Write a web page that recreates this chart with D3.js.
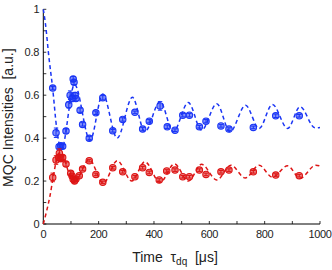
<!DOCTYPE html>
<html>
<head>
<meta charset="utf-8">
<script src="https://cdn.jsdelivr.net/npm/d3@7"></script>
<style>
  body { margin: 0; background: #fff; }
  svg { display: block; font-family: "Liberation Sans", Arial, sans-serif; }
  .title { white-space: pre; }
</style>
</head>
<body>
<div class="chart-container"></div>
<script>
// --- Data ---

// measurement times (us) and values
var blueT   = [34, 46, 57, 63, 70, 82, 92, 97, 104, 108, 111, 115, 118, 133, 142, 166, 190, 215, 251, 287, 331, 359, 383, 422, 448, 476, 504, 528, 564, 588, 642, 671, 759, 840, 925];
var blueV   = [0.633, 0.425, 0.36, 0.365, 0.362, 0.433, 0.555, 0.60, 0.585, 0.675, 0.66, 0.598, 0.585, 0.53, 0.464, 0.399, 0.518, 0.588, 0.434, 0.487, 0.52, 0.442, 0.479, 0.55, 0.453, 0.437, 0.507, 0.507, 0.453, 0.479, 0.457, 0.442, 0.45, 0.504, 0.504];
var blueErr = [0.008, 0.022, 0.01, 0.01, 0.01, 0.01, 0.015, 0.02, 0.015, 0.012, 0.01, 0.015, 0.012, 0.01, 0.008, 0.008, 0.008, 0.01, 0.006, 0.008, 0.006, 0.008, 0.008, 0.02, 0.008, 0.006, 0.008, 0.008, 0.006, 0.008, 0.006, 0.006, 0.006, 0.008, 0.006];

var redT   = [34, 46, 56, 58, 63, 70, 82, 99, 104, 108, 113, 118, 130, 142, 166, 190, 215, 251, 287, 331, 359, 383, 419, 446, 476, 504, 528, 564, 588, 642, 671, 759, 840, 925];
var redV   = [0.217, 0.298, 0.31, 0.33, 0.305, 0.31, 0.279, 0.236, 0.223, 0.208, 0.2, 0.21, 0.225, 0.256, 0.295, 0.231, 0.194, 0.262, 0.243, 0.22, 0.262, 0.24, 0.205, 0.247, 0.251, 0.22, 0.22, 0.251, 0.231, 0.243, 0.251, 0.243, 0.228, 0.225];
var redErr = [0.02, 0.02, 0.015, 0.02, 0.015, 0.01, 0.01, 0.01, 0.01, 0.01, 0.01, 0.008, 0.006, 0.006, 0.006, 0.006, 0.006, 0.006, 0.006, 0.006, 0.006, 0.006, 0.006, 0.006, 0.006, 0.006, 0.006, 0.006, 0.006, 0.006, 0.006, 0.006, 0.006, 0.006];

// fitted curves (read at start, peaks and troughs)
var blueFitT = [0, 8, 20, 34, 48, 65, 113, 169, 215, 267, 322, 367, 422, 470, 524, 572, 627, 675, 731, 780, 828, 883, 928, 982, 1000];
var blueFitV = [1.0, 0.93, 0.78, 0.63, 0.45, 0.345, 0.65, 0.39, 0.605, 0.40, 0.59, 0.43, 0.57, 0.43, 0.566, 0.437, 0.56, 0.43, 0.553, 0.445, 0.557, 0.445, 0.546, 0.448, 0.45];
var redFitT = [0, 12, 24, 36, 48, 62, 110, 166, 217, 267, 320, 367, 422, 474, 524, 572, 627, 678, 730, 780, 828, 883, 928, 985, 1000];
var redFitV = [0.0, 0.06, 0.13, 0.22, 0.30, 0.335, 0.19, 0.30, 0.19, 0.295, 0.20, 0.29, 0.194, 0.28, 0.20, 0.278, 0.205, 0.274, 0.214, 0.274, 0.218, 0.271, 0.213, 0.274, 0.27];

var yTicks = [0, 0.1, 0.2, 0.3, 0.4, 0.5, 0.6, 0.7, 0.8, 0.9, 1];
var yLabels = [0, 0.2, 0.4, 0.6, 0.8, 1];
var xTicks = [0, 100, 200, 300, 400, 500, 600, 700, 800, 900, 1000];
var xLabels = [0, 200, 400, 600, 800, 1000];

// --- Configuration ---
const w = 332;
const h = 270;
const mLeft = 43.3, mRight = 320, mTop = 9.3, mBottom = 224;
const blue = "#1a35f5";
const red = "#dd1515";

var xScale = d3.scaleLinear().domain([0, 1000]).range([mLeft, mRight]);
var yScale = d3.scaleLinear().domain([0, 1]).range([mBottom, mTop]);

var svg = d3.select(".chart-container")
    .append("svg")
    .attr("width", w)
    .attr("height", h);

// axes lines
svg.append("line")
    .attr("x1", mLeft).attr("x2", mLeft)
    .attr("y1", mTop).attr("y2", mBottom)
    .attr("stroke", "#000").attr("stroke-width", 1);
svg.append("line")
    .attr("x1", mLeft).attr("x2", mRight)
    .attr("y1", mBottom).attr("y2", mBottom)
    .attr("stroke", "#000").attr("stroke-width", 1);

// inward ticks
svg.selectAll(".ytick")
    .data(yTicks)
    .enter()
    .append("line")
    .attr("x1", mLeft).attr("x2", mLeft + 3)
    .attr("y1", function (d) { return yScale(d); })
    .attr("y2", function (d) { return yScale(d); })
    .attr("stroke", "#000").attr("stroke-width", 0.8);

svg.selectAll(".xtick")
    .data(xTicks)
    .enter()
    .append("line")
    .attr("x1", function (d) { return xScale(d); })
    .attr("x2", function (d) { return xScale(d); })
    .attr("y1", mBottom).attr("y2", mBottom - 3)
    .attr("stroke", "#000").attr("stroke-width", 0.8);

// tick labels
svg.selectAll(".ylab")
    .data(yLabels)
    .enter()
    .append("text")
    .attr("x", mLeft - 4)
    .attr("y", function (d) { return yScale(d) + 4; })
    .attr("text-anchor", "end")
    .attr("font-size", "11px")
    .attr("letter-spacing", "-0.2px")
    .attr("fill", "#222")
    .text(function (d) { return d; });

svg.selectAll(".xlab")
    .data(xLabels)
    .enter()
    .append("text")
    .attr("x", function (d) { return xScale(d); })
    .attr("y", 238)
    .attr("text-anchor", "middle")
    .attr("font-size", "11px")
    .attr("letter-spacing", "-0.4px")
    .attr("fill", "#222")
    .text(function (d) { return d; });

// axis titles
svg.append("text")
    .attr("class", "title")
    .attr("transform", "translate(13," + ((mTop + mBottom) / 2 + 1) + ") rotate(-90)")
    .attr("text-anchor", "middle")
    .attr("font-size", "14px")
    .attr("fill", "#222")
    .text("MQC Intensities  [a.u.]");

var xt = svg.append("text")
    .attr("class", "title")
    .attr("x", 175)
    .attr("y", 262)
    .attr("text-anchor", "middle")
    .attr("font-size", "14px")
    .attr("fill", "#222");
xt.append("tspan").text("Time  τ");
xt.append("tspan").attr("font-size", "10px").attr("dy", 3).text("dq");
xt.append("tspan").attr("dy", -3).text("  [μs]");

// fitted curves
var line = d3.line()
    .x(function (d) { return xScale(d[0]); })
    .y(function (d) { return yScale(d[1]); })
    .curve(d3.curveMonotoneX);

function drawFit(ts, vs, color) {
    svg.append("path")
        .datum(d3.zip(ts, vs))
        .attr("d", line)
        .attr("fill", "none")
        .attr("stroke", color)
        .attr("stroke-width", 1.5)
        .attr("stroke-dasharray", "4,3");
}
drawFit(blueFitT, blueFitV, blue);
drawFit(redFitT, redFitV, red);

// data points with error bars
function drawPoints(ts, vs, es, color) {
    var pts = d3.zip(ts, vs, es);
    var g = svg.append("g");
    g.selectAll(".eb")
        .data(pts)
        .enter()
        .append("path")
        .attr("d", function (d) {
            var x = xScale(d[0]);
            var y1 = yScale(d[1] - d[2]);
            var y2 = yScale(d[1] + d[2]);
            return "M" + x + "," + y1 + "V" + y2 +
                "M" + (x - 2.2) + "," + y1 + "H" + (x + 2.2) +
                "M" + (x - 2.2) + "," + y2 + "H" + (x + 2.2);
        })
        .attr("stroke", color)
        .attr("stroke-width", 1)
        .attr("fill", "none");
    g.selectAll(".pt")
        .data(pts)
        .enter()
        .append("circle")
        .attr("cx", function (d) { return xScale(d[0]); })
        .attr("cy", function (d) { return yScale(d[1]); })
        .attr("r", 3.2)
        .attr("fill", color)
        .attr("fill-opacity", 0.55)
        .attr("stroke", color)
        .attr("stroke-width", 1.1);
}
drawPoints(blueT, blueV, blueErr, blue);
drawPoints(redT, redV, redErr, red);
</script>
</body>
</html>
